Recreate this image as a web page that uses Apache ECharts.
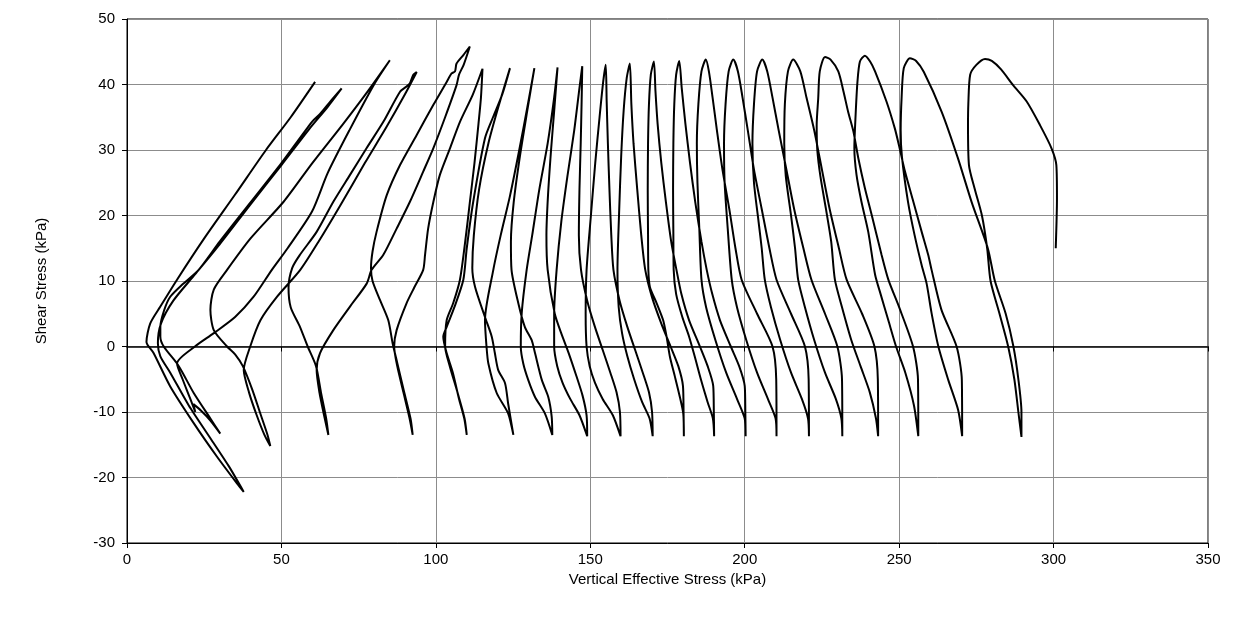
<!DOCTYPE html>
<html>
<head>
<meta charset="utf-8">
<script src="https://cdn.jsdelivr.net/npm/echarts@6/dist/echarts.min.js"></script>
<style>
html,body{margin:0;padding:0;background:#fff;}
#container{width:1235px;height:620px;}
</style>
</head>
<body>
<div id="container"></div>
<script>
// stress path, one array per loading cycle: [vertical effective stress, shear stress] in kPa
var cyc01 = [[300.7,15],[301.1,22.6],[300.9,27.7],[299.3,30.3],[295.6,33.8],[291.3,37.4],[286.9,39.9],[283,42.3],[280,43.6],[277.8,43.9],[275,43],[273,41.5],[272.4,37],[272.3,33.8],[272.6,27.7],[274.5,24],[276.8,20],[278.5,15],[279.6,10],[282.5,5],[285.3,0],[287.3,-5],[288.6,-10],[289.6,-13.8]];
var cyc02 = [[289.6,-10],[288.6,-5],[287,0],[284.5,5],[281,10],[278.7,15],[273.5,22],[269,28.8],[263.8,35.8],[258,41.9],[255.5,43.6],[253.5,44],[251.5,42.5],[250.8,38],[250.5,33],[250.9,29],[252.9,22],[255,17],[257.3,12.4],[258.9,9.6],[260.5,5.1],[262.7,0],[265.9,-5.1],[269.1,-9.7],[270.4,-13.7]];
var cyc03 = [[270.3,-5.1],[268.6,0],[263.7,5.6],[260.5,11.7],[259.4,14],[257.3,17.5],[254.6,22.1],[251.9,26.7],[249.9,30.8],[248.6,33.3],[245.9,37.4],[242.2,42],[240.6,43.5],[238.9,44.4],[237.3,43.5],[236.5,40.4],[235.9,35.3],[235.5,30.3],[236.2,26.2],[237.8,22.1],[240,17.5],[242.2,11],[244,8],[246.5,4],[249,0],[252,-4],[254.8,-9],[256.2,-13.7]];
var cyc04 = [[256.1,-5],[254.5,0],[250,6],[246.5,10.2],[244.3,14],[241.1,20.1],[238.9,24.2],[236.8,28.7],[235.2,32.8],[233.5,35.8],[232,38.9],[230.3,42],[227.8,43.8],[226,44.2],[224.3,42],[223.8,37.9],[223.3,33.8],[223.5,30],[224.5,26],[226.3,21],[228,16],[229.2,10.2],[231.5,6],[234.5,1],[237.5,-3],[240.5,-7],[242.5,-11],[243.2,-13.7]];
var cyc05 = [[243.1,-5],[242,0],[238,5],[233,10.2],[230.5,15],[227.5,21],[225,27],[222.5,33],[220,38],[218,42],[215.7,43.8],[214,42],[213,37],[212.8,31],[213.3,26],[215,20],[216.3,15],[217.3,10.2],[219.5,6],[222.5,1],[226,-4],[229.5,-8],[231.3,-11],[231.6,-13.7]];
var cyc06 = [[231.5,-5],[230,0],[226,5],[221.6,10.2],[219,15],[216,21],[213.5,27],[211,33],[209,38],[207.3,42],[205.7,43.8],[204,42],[203,37],[202.5,31],[203,25],[204.5,19],[205.5,15],[206.5,10.2],[208.5,6],[211.5,1],[215,-4],[218.5,-8],[220.5,-11],[220.8,-13.7]];
var cyc07 = [[220.7,-5],[219.5,0],[215,5],[210.3,10.2],[208,15],[205.5,21],[203,27],[201,33],[199.3,38],[197.8,42],[196.3,43.8],[194.8,42],[193.8,37],[193.3,31],[193.5,25],[194.5,18],[195.8,10.2],[197.5,6],[200.5,1],[204,-4],[207.5,-8],[210,-11],[210.3,-13.7]];
var cyc08 = [[210.2,-5],[209,0],[204,5],[199,10.2],[197,15],[195,21],[192.8,27],[191,33],[189.6,38],[188.4,42],[187.4,43.8],[186,42],[185,37],[184.5,31],[184.7,25],[185.3,18],[186,10.2],[187.5,6],[190.5,1],[194,-4],[197.5,-8],[200,-11],[200.3,-13.7]];
var cyc09 = [[200.2,-10],[200,-6],[198.2,-3],[195.5,0],[192,4],[189.5,8],[187.7,11.7],[186,16],[184,22],[182.3,28],[180.8,34],[179.6,39.5],[178.8,43.6],[177.8,41.5],[177.2,37],[176.9,31],[176.8,24],[176.9,17],[177,11.7],[177.8,8],[179.8,4.5],[182,1.5],[183.8,-1.5],[185.8,-5],[188,-8.5],[189.7,-11],[190.1,-13.7]];
var cyc10 = [[190,-10],[189.8,-6],[188,-3],[185.5,0],[182,4],[179.5,8],[177.9,11.7],[176.2,16],[174.5,22],[173,28],[171.8,34],[171.1,39],[170.6,43.5],[169.6,41.5],[169,37],[168.7,31],[168.6,24],[168.7,17],[168.8,11.7],[169.3,9.1],[171.5,6.6],[173.6,4],[174.7,1.5],[175.8,-1.6],[177.4,-4.6],[179,-7.7],[180.1,-10.2],[180.3,-13.7]];
var cyc11 = [[180.2,-10],[180,-6],[178.5,-3],[176,0],[173,3.5],[170,7.5],[167.8,11.7],[166.5,17],[165.2,24],[164,31],[163.3,37],[162.8,43.2],[161.8,41],[160.8,36],[160,29],[159.3,20],[158.8,11.7],[159.2,6],[160.3,2],[162,-1.5],[164.2,-5],[166.8,-8.5],[169.2,-11],[170.2,-13.7]];
var cyc12 = [[170,-10],[169,-7],[167,-4],[164.5,-0.5],[162,3],[159.5,7],[157.5,11.7],[156.8,17],[156.2,24],[155.7,31],[155.3,37.5],[155,43],[154.2,40.5],[153,35],[151.6,28],[150.2,20],[148.8,11.7],[148.5,5],[148.8,0],[149.8,-3],[151.5,-5.5],[154,-8],[157.3,-10.5],[159.8,-13.7]];
var cyc13 = [[159.6,-10],[158.5,-7],[156.5,-4],[154,-0.5],[151.5,3],[149,7],[147,11.7],[146.3,17],[146.5,24],[146.9,31],[147.2,37.5],[147.4,42.8],[146.5,39.5],[144.8,33],[142.6,26],[140.6,19],[139.1,11.7],[138.3,5],[138.3,0],[139.3,-3],[141,-5.5],[143.5,-8],[146.5,-10.5],[149,-13.7]];
var cyc14 = [[148.8,-10.5],[147.5,-7.5],[145.5,-4.5],[143,-1],[141,1.5],[138.5,5],[136.2,11.7],[135.8,17],[136.3,23],[137.3,30],[138.4,36.5],[139.4,42.6],[138.3,38],[136.2,31],[133.5,24],[131.2,17],[129.4,11.7],[127.8,5.1],[127.5,0],[128.3,-2.6],[129.9,-5.1],[132.1,-7.7],[135.3,-10.2],[137.7,-13.5]];
var cyc15 = [[137.5,-10.7],[136.4,-7.7],[134.3,-5.1],[132.1,-1],[131,1],[128.8,3],[126.7,6.6],[124.5,11.7],[124.3,16],[125.2,22],[127.2,29],[129.6,36],[131.9,42.5],[129.8,37],[127,30],[124,23],[121,17],[118.6,11.7],[115.9,4],[116.4,0],[117,-2.6],[119.7,-7.1],[123.4,-10.2],[125.1,-13.5]];
var cyc16 = [[123.4,-8.7],[122.4,-5.6],[120.2,-3.6],[119.1,-1],[118.1,1.5],[115.9,4.5],[112.7,9.1],[111.8,12],[112.3,17],[114,24],[117,31],[120.5,37],[124,42.5],[121.5,38.5],[118.5,35],[115.9,31.8],[112.1,22.1],[110,15],[108.9,10.2],[106,6],[103.5,3],[102.4,1.5],[103.5,-1],[105.5,-4],[107.5,-8],[109.2,-11],[110,-13.5]];
var cyc17 = [[109.3,-11],[107,-7],[104.5,-3],[103,0],[103.5,4],[105.6,6.6],[107.8,10.2],[109.5,16],[111,22],[112.5,28],[113.8,34],[114.6,38],[115.1,42.4],[112,38.5],[107.8,34.3],[104.6,30.3],[101.3,26.2],[99.2,22.1],[97.5,18],[96.5,14],[95.9,11.7],[93,9],[90.5,6.6],[87.3,2.5],[86.5,0],[87.5,-3],[89.5,-7],[91.5,-11],[92.5,-13.5]];
var cyc18 = [[91.8,-11],[89.5,-6.5],[87.5,-2.5],[86,0.5],[84.6,4],[81.9,7.1],[79.5,10],[79,12],[79.5,14.5],[80.8,17.5],[84.1,23.1],[88.4,27.7],[93.8,32.3],[99.2,36.9],[103.5,40.4],[105.1,41.7],[106.2,42],[106.7,43.2],[108.9,44.5],[111,45.8],[109,43],[107.5,41.5],[106.7,39.9],[103,35],[99.2,30.3],[95.9,26.7],[91.6,22.1],[87.3,18],[83,14],[79.2,11.7],[77.6,9.6],[72.2,6.1],[66.8,2.5],[62.5,-1],[61.4,-3.6],[62.3,-7],[63.8,-10.5],[65.2,-13.5]];
var cyc19 = [[64.5,-11],[62.8,-7],[61.2,-3],[58.5,0],[56,3],[53,6],[52.3,9],[53.5,12],[56,14],[61.4,17.5],[66.8,22.1],[72.2,26.2],[77.6,30.3],[83,34.3],[88.4,38.9],[90.5,39.7],[91.6,40.2],[92.7,41.5],[93.8,41.9],[90,38.5],[84,33.5],[77,28],[69,21.5],[62,16],[56.1,11.7],[48.6,7.6],[43.2,4],[39.9,0],[37.8,-3.6],[39.5,-7],[42,-10.5],[44.5,-13.5],[46.4,-15.2]];
var cyc20 = [[45.5,-13.5],[43,-10],[40.5,-6.5],[37.5,-3],[35,-1.2],[32.4,0],[28.1,2.5],[27,5.6],[28.1,8.7],[32.4,11.7],[40,16.5],[50.7,22.1],[60,28],[70,34],[78,39],[85.1,43.7],[80,40],[72,33],[65,26.5],[59.9,20.6],[52,15],[46.9,11.7],[41,7.6],[35,4.5],[28,2],[22,0],[16.2,-2.6],[18,-5],[20.5,-8],[22.1,-10],[21.5,-8.8],[24,-9.8],[27,-11.3],[30.2,-13.3]];
var cyc21 = [[27,-11],[21.6,-7.1],[18,-4],[16.2,-2.6],[11.9,0],[10.8,1.5],[10.8,3],[12,5.5],[14,7.6],[18,9.5],[23.2,11.7],[30,16],[40,22],[50,28],[59.9,34.3],[62.5,35.5],[66,37.5],[69.5,39.4],[65,36.6],[59,33.2],[50,27.7],[40,21.7],[30,15.6],[22,11],[15,7],[11,3.5],[10,0.5],[10.8,-1.5],[14,-4],[20,-9],[27,-14],[33,-18.3],[37.8,-22.2]];
var cyc22 = [[35.6,-20.9],[29.1,-16.8],[21.6,-11.7],[14,-6.1],[8.6,-1],[6.3,0.7],[7.5,3.5],[10.8,6.1],[16.2,10.2],[25,16.5],[35,23.2],[45,30],[53,35],[60.9,40.4]];

var xTicks = {min: 0, max: 350, step: 50};
var yTicks = {min: -30, max: 50, step: 10};

var path = [].concat(cyc01, cyc02, cyc03, cyc04, cyc05, cyc06, cyc07, cyc08, cyc09, cyc10, cyc11,
    cyc12, cyc13, cyc14, cyc15, cyc16, cyc17, cyc18, cyc19, cyc20, cyc21, cyc22);

var font = 'Liberation Sans, Arial, sans-serif';
var chart = echarts.init(document.getElementById('container'));
chart.setOption({
    animation: false,
    grid: {
        left: 127, right: 27, top: 19, bottom: 77,
        show: true, borderColor: '#000', borderWidth: 1
    },
    xAxis: [
        {
            type: 'value', min: xTicks.min, max: xTicks.max, interval: xTicks.step,
            position: 'bottom',
            axisLine: {onZero: false, lineStyle: {color: '#000', width: 1}},
            axisTick: {show: true, length: 5, lineStyle: {color: '#000'}},
            axisLabel: {color: '#000', fontSize: 15, fontFamily: font, margin: 9},
            splitLine: {show: true, lineStyle: {color: '#8c8c8c', width: 1}},
            name: 'Vertical Effective Stress (kPa)',
            nameLocation: 'middle', nameGap: 27,
            nameTextStyle: {color: '#000', fontSize: 15, fontFamily: font}
        },
        {
            type: 'value', min: xTicks.min, max: xTicks.max, interval: xTicks.step,
            position: 'bottom',
            axisLine: {onZero: true, lineStyle: {color: '#000', width: 1.5}},
            axisTick: {show: true, length: 5, lineStyle: {color: '#000'}},
            axisLabel: {show: false},
            splitLine: {show: false}
        }
    ],
    yAxis: {
        type: 'value', min: yTicks.min, max: yTicks.max, interval: yTicks.step,
        axisLine: {show: true, onZero: false, lineStyle: {color: '#000'}},
        axisTick: {show: true, length: 5, lineStyle: {color: '#000'}},
        axisLabel: {color: '#000', fontSize: 15, fontFamily: font, margin: 12},
        splitLine: {show: true, lineStyle: {color: '#8c8c8c', width: 1}},
        name: 'Shear Stress (kPa)',
        nameLocation: 'middle', nameGap: 78,
        nameTextStyle: {color: '#000', fontSize: 15, fontFamily: font}
    },
    series: [{
        type: 'line',
        xAxisIndex: 0,
        data: path,
        showSymbol: false,
        smooth: 0.25,
        lineStyle: {color: '#000', width: 2}
    }]
});
</script>
</body>
</html>
